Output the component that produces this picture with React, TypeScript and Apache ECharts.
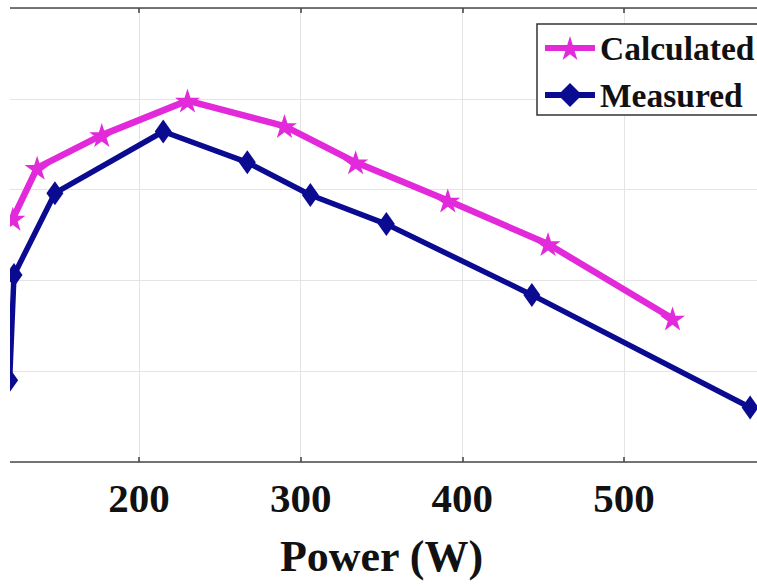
import React, { useEffect, useRef } from "react";
import * as echarts from "echarts";

// ---- data ----
const xMin = 100;
const xMax = 600;
const xStep = 100;
const yMin = 70;
const yMax = 95;
const yStep = 5;
const seriesNames = ["Calculated", "Measured"];
const xAxisName = "Power (W)";
const calculatedPower = [122, 137, 177, 230, 290, 334, 391, 453, 530];
const calculatedValue = [83.4, 86.2, 88.0, 89.9, 88.5, 86.5, 84.4, 82.0, 77.9];
const measuredPower = [120, 122.7, 148, 215, 267, 306, 353, 443, 578];
const measuredValue = [74.5, 80.3, 84.8, 88.2, 86.5, 84.7, 83.1, 79.2, 73.0];

const STAR =
  "path://M100 0L122.45 69.1L195.1 69.1L136.3 111.8L158.8 180.9L100 138.2L41.2 180.9L63.7 111.8L4.9 69.1L77.55 69.1Z";

const FONT = "'Liberation Serif', 'Times New Roman', serif";
const MAGENTA = "#e22ada";
const NAVY = "#0b0b92";

export default function App() {
  const ref = useRef<HTMLDivElement>(null);

  useEffect(() => {
    if (!ref.current) return;
    const chart = echarts.init(ref.current, undefined, { renderer: "svg" });
    const calc = calculatedPower.map((p, i) => [p, calculatedValue[i]]);
    const meas = measuredPower.map((p, i) => [p, measuredValue[i]]);
    const axisLineStyle = { color: "#4a4a4a", width: 1.6 };
    chart.setOption({
      animation: false,
      backgroundColor: "#ffffff",
      grid: { left: 27.3, right: 31.3, top: 8, bottom: 124, containLabel: false },
      legend: {
        orient: "vertical",
        left: 587,
        top: 24,
        padding: [7, 60, 3, 5],
        itemWidth: 50,
        itemHeight: 30,
        itemGap: 13,
        backgroundColor: "#ffffff",
        borderColor: "#333333",
        borderWidth: 1.5,
        borderRadius: 0,
        lineStyle: { width: 6 },
        textStyle: { fontFamily: FONT, fontWeight: "bold", fontSize: 33.5, color: "#111111" },
        data: seriesNames,
      },
      xAxis: [
        {
          type: "value",
          min: xMin,
          max: xMax,
          interval: xStep,
          position: "bottom",
          name: xAxisName,
          nameLocation: "middle",
          nameGap: 72,
          nameTextStyle: { fontFamily: FONT, fontWeight: "bold", fontSize: 44, color: "#111111" },
          axisLine: { show: true, lineStyle: axisLineStyle },
          axisTick: { show: true, inside: true, length: 5, lineStyle: axisLineStyle },
          axisLabel: {
            fontFamily: FONT,
            fontWeight: "bold",
            fontSize: 41,
            color: "#111111",
            margin: 15,
            showMinLabel: false,
            showMaxLabel: false,
          },
          splitLine: { show: true, lineStyle: { color: "#e4e4e4", width: 1 } },
        },
        {
          type: "value",
          min: xMin,
          max: xMax,
          interval: xStep,
          position: "top",
          axisLine: { show: true, lineStyle: axisLineStyle },
          axisTick: { show: true, inside: true, length: 5, lineStyle: axisLineStyle },
          axisLabel: { show: false },
          splitLine: { show: false },
        },
      ],
      yAxis: {
        type: "value",
        min: yMin,
        max: yMax,
        interval: yStep,
        axisLine: { show: true, lineStyle: axisLineStyle },
        axisTick: { show: true, inside: true, length: 5, lineStyle: axisLineStyle },
        axisLabel: { show: false },
        splitLine: { show: true, lineStyle: { color: "#e4e4e4", width: 1 } },
      },
      series: [
        {
          name: seriesNames[0],
          type: "line",
          xAxisIndex: 0,
          data: calc,
          symbol: STAR,
          symbolSize: [25, 24],
          lineStyle: { color: MAGENTA, width: 6.5 },
          itemStyle: { color: MAGENTA },
          z: 3,
        },
        {
          name: seriesNames[1],
          type: "line",
          xAxisIndex: 0,
          data: meas,
          symbol: "diamond",
          symbolSize: [17, 24],
          lineStyle: { color: NAVY, width: 5.5 },
          itemStyle: { color: NAVY },
          z: 2,
        },
      ],
    });
    return () => chart.dispose();
  }, []);

  return (
    <div
      style={{
        position: "absolute",
        left: 10,
        top: 0,
        width: 747,
        height: 586,
        overflow: "hidden",
        background: "#ffffff",
      }}
    >
      <div
        ref={ref}
        style={{ position: "absolute", left: -60, top: 0, width: 867, height: 586 }}
      />
    </div>
  );
}
